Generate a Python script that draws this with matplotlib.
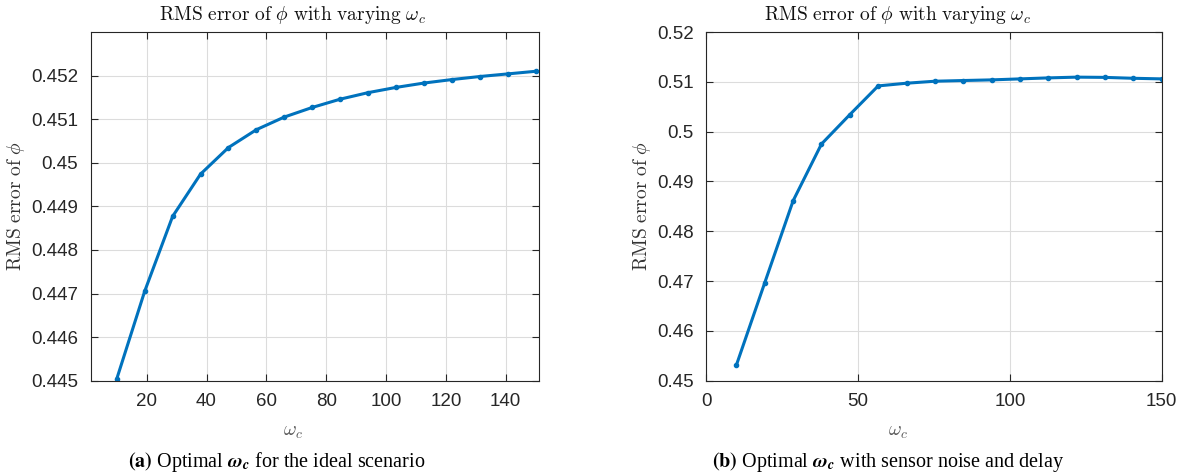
import numpy as np
import matplotlib
matplotlib.use('Agg')
from matplotlib import pyplot as plt

# cutoff frequencies used in both sweeps
omega_c = [10.0, 19.33, 28.67, 38.0, 47.33, 56.67, 66.0, 75.33,
           84.67, 94.0, 103.33, 112.67, 122.0, 131.33, 140.67, 150.0]

# RMS error of phi, ideal case
rms_ideal = [0.44504, 0.44705, 0.44877, 0.44974, 0.45035, 0.45076, 0.45105, 0.45127,
             0.45146, 0.45161, 0.45173, 0.45183, 0.45191, 0.45198, 0.45204, 0.45210]

# RMS error of phi, with sensor noise and delay
rms_noisy = [0.45314, 0.46967, 0.48613, 0.49752, 0.50342, 0.50919, 0.50973, 0.51013,
             0.51027, 0.51040, 0.51060, 0.51080, 0.51095, 0.51090, 0.51072, 0.51060]

ticks_a = [20, 40, 60, 80, 100, 120, 140]
yticks_a = [0.445, 0.446, 0.447, 0.448, 0.449, 0.45, 0.451, 0.452]
ylabels_a = ['0.445', '0.446', '0.447', '0.448', '0.449', '0.45', '0.451', '0.452']
ticks_b = [0, 50, 100, 150]
yticks_b = [0.45, 0.46, 0.47, 0.48, 0.49, 0.5, 0.51, 0.52]
ylabels_b = ['0.45', '0.46', '0.47', '0.48', '0.49', '0.5', '0.51', '0.52']

plt.rcParams['mathtext.fontset'] = 'cm'
plt.rcParams['font.family'] = ['Liberation Sans', 'DejaVu Sans']

dark = '#262626'
blue = '#0072BD'
title = r'$\mathrm{RMS\ error\ of\ }\phi\mathrm{\ with\ varying\ }\omega_c$'
ylab = r'$\mathrm{RMS\ error\ of\ }\phi$'

fig = plt.figure(figsize=(11.84, 4.75), dpi=100)
ax1 = fig.add_axes([0.0766, 0.1985, 0.3786, 0.734])
ax2 = fig.add_axes([0.5963, 0.1985, 0.3849, 0.734])


def style(ax, x, y, xlim, ylim, xt, yt, ylb, tx):
    ax.plot(x, y, color=blue, lw=2.2, marker='.', ms=6)
    ax.set_xlim(*xlim)
    ax.set_ylim(*ylim)
    ax.set_xticks(xt)
    ax.set_yticks(yt)
    ax.set_yticklabels(ylb)
    ax.grid(True, color='#dcdcdc', lw=0.8)
    ax.set_axisbelow(True)
    for s in ax.spines.values():
        s.set_color(dark)
        s.set_linewidth(0.8)
    ax.tick_params(direction='in', top=True, right=True, length=5,
                   width=0.8, color=dark, labelcolor=dark, labelsize=13.5, pad=9)
    ax.set_title(title, fontsize=14, color='#111111', x=tx, pad=9)
    ax.set_xlabel(r'$\omega_c$', fontsize=14, color='#555555')
    ax.xaxis.set_label_coords(tx, -0.125)
    ax.set_ylabel(ylab, fontsize=14, color='#333333', labelpad=3)


style(ax1, omega_c, rms_ideal, (1.3, 151.1), (0.445, 0.453),
      ticks_a, yticks_a, ylabels_a, 0.451)
style(ax2, omega_c, rms_noisy, (0, 150), (0.45, 0.52),
      ticks_b, yticks_b, ylabels_b, 0.421)

# sub-figure captions
cap = dict(fontsize=14.5, family='Liberation Serif', math_fontfamily='stix',
           ha='center', va='center')
fig.text(0.2340, 0.028, r'$\mathbf{(a)}$ Optimal $\mathbfit{\omega_c}$ for the ideal scenario', **cap)
fig.text(0.7500, 0.028, r'$\mathbf{(b)}$ Optimal $\mathbfit{\omega_c}$ with sensor noise and delay', **cap)

fig.savefig('out.png', dpi=100)
